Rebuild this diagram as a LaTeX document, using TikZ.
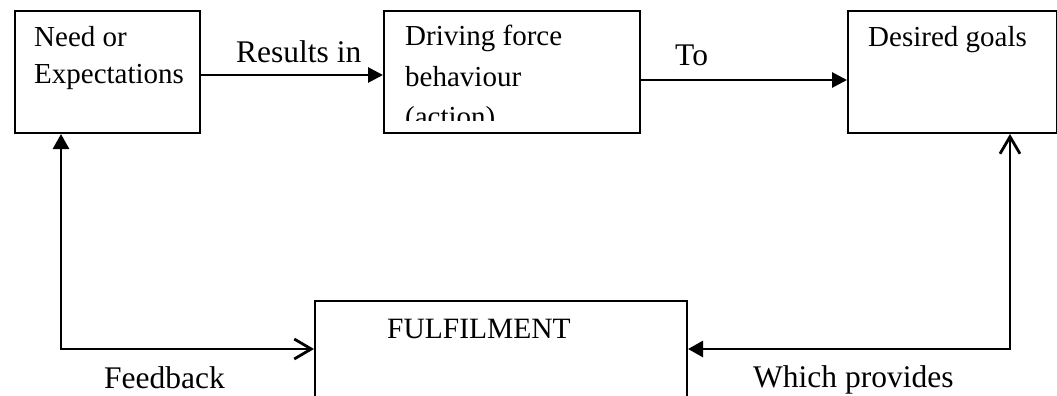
\documentclass[tikz,border=0pt]{standalone}
\usepackage{fontspec}
\setmainfont{Liberation Serif}
\usetikzlibrary{arrows.meta}

\begin{document}
\begin{tikzpicture}[x=1pt,y=-1pt,
  box/.style={draw,line width=2pt,minimum width=#1,minimum height=122pt,inner sep=0pt,anchor=north west},
  boxtext/.style={anchor=base west,inner sep=0pt,font=\fontsize{29}{34}\selectfont},
  lbl/.style={anchor=base west,inner sep=0pt,font=\fontsize{31.5}{36}\selectfont},
  link/.style={line width=2.8pt},
  solidtip/.style={-{Triangle[length=15pt,width=15pt]}},
  bothtips/.style={{Triangle[length=15pt,width=16pt]}-{Straight Barb[length=17pt,width=20pt,line width=2.8pt]}},
]
\useasboundingbox (0,0) rectangle (1057,396);

% boxes
\node[box=185pt] (need)  at (14,10)  {};
\node[box=256pt] (drive) at (383,10) {};
\node[box=209pt] (goals) at (847,10) {};
\node[draw,line width=2pt,minimum width=372pt,minimum height=130pt,inner sep=0pt,anchor=north west] (ful) at (314,300) {};

% box texts
\node[boxtext] (t1) at (34,47) {Need or};
\node[boxtext] (t2) at (34,83) {Expectations};
\begin{scope}
  \clip (384,11) rectangle (638,120);
  \node[boxtext] (t3) at (405,46) {Driving force};
  \node[boxtext] (t4) at (405,86) {behaviour};
  \node[boxtext] (t5) at (405,126) {(action)};
\end{scope}
\node[boxtext] (t6) at (868,47) {Desired goals};
\node[boxtext,font=\fontsize{29.5}{34}\selectfont] (t7) at (387,338) {FULFILMENT};

% connector labels
\node[lbl] (l1) at (236,63) {Results in};
\node[lbl] (l2) at (675,66) {To};
\node[lbl] (l3) at (104,388) {Feedback};
\node[lbl] (l4) at (753,387) {Which provides};

% connectors
\coordinate (fbcorner) at (61,349);
\coordinate (wpcorner) at (1010,349);
\draw[link,solidtip] (need.east |- 0,75) -- (drive.west |- 0,75);
\draw[link,solidtip] (drive.east |- 0,80) -- (goals.west |- 0,80);
\draw[link,bothtips] (need.south -| fbcorner) -- (fbcorner) -- (ful.west |- fbcorner);
\draw[link,bothtips] (ful.east |- wpcorner) -- (wpcorner) -- (goals.south -| wpcorner);
\end{tikzpicture}
\end{document}
